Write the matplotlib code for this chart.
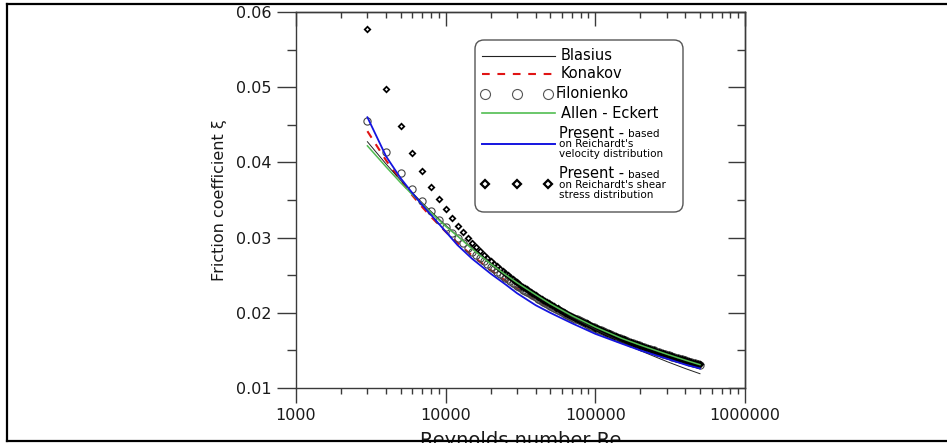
import matplotlib
matplotlib.use("Agg")
import matplotlib.pyplot as plt
import matplotlib.transforms as mtransforms
from matplotlib.lines import Line2D
from matplotlib.patches import FancyBboxPatch
from matplotlib.text import Annotation
from matplotlib.ticker import (LogLocator, MultipleLocator, FuncFormatter,
                               FormatStrFormatter, NullFormatter)

plt.rcParams['font.family'] = ['DejaVu Sans']

# ---- correlations drawn as lines -------------------------------------------
re_lines = [3000, 4000, 5000, 6000, 7000, 8000, 10000, 12000, 15000, 20000,
            25000, 30000, 40000, 50000, 70000, 100000, 150000, 200000,
            300000, 400000, 500000]
xi_blasius = [0.04275, 0.03978, 0.03763, 0.03595, 0.03459, 0.03346, 0.03164,
              0.03023, 0.02859, 0.02661, 0.02516, 0.02404, 0.02237, 0.02116,
              0.01945, 0.01779, 0.01608, 0.01496, 0.01352, 0.01258, 0.01190]
xi_konakov = [0.04415, 0.04026, 0.03758, 0.03559, 0.03403, 0.03275, 0.03078,
              0.02930, 0.02762, 0.02567, 0.02429, 0.02325, 0.02173, 0.02066,
              0.01918, 0.01778, 0.01636, 0.01546, 0.01431, 0.01357, 0.01304]
xi_allen_eckert = [0.0422, 0.0394, 0.0373, 0.0357, 0.0344, 0.0333, 0.0315,
                   0.0302, 0.0285, 0.0265, 0.0251, 0.0240, 0.0224, 0.0212,
                   0.0196, 0.0181, 0.0166, 0.0157, 0.0145, 0.0137, 0.0131]
xi_present_velocity = [0.0460, 0.0408, 0.0379, 0.0359, 0.0343, 0.0330, 0.0308,
                       0.0290, 0.0272, 0.0252, 0.0238, 0.0226, 0.0210, 0.0200,
                       0.0186, 0.0172, 0.0159, 0.0150, 0.0139, 0.0131, 0.0126]

# ---- series drawn as markers ----------------------------------------------
re_points = [3000, 4000, 5000, 6000, 7000, 8000, 9000, 10000, 11000, 12000,
             13000, 14000, 15000, 16000, 17000, 18000, 19000, 20000, 21000,
             22000, 23000, 24000, 25000, 26000, 27000, 28000, 29000,
             30000, 31000, 32000, 33000, 34000, 35000, 36000, 37000, 38000, 39000,
             40000, 41250, 42500, 43750, 45000, 46250, 47500, 48750, 50000, 51500,
             53000, 54500, 56000, 58000, 60000, 61500, 63000, 65000, 67000, 69000,
             71000, 73000, 75000, 77500, 80000, 82500, 85000, 87500, 90000, 92500,
             95000, 97500, 100000, 103000, 106000, 109000, 112000, 115500, 119000, 122500,
             126000, 130000, 134000, 138000, 142000, 146000, 150000, 154500, 159000, 163500,
             168000, 173000, 178000, 183500, 189000, 194500, 200000, 206000, 212000, 218500,
             225000, 231500, 238000, 245000, 252000, 259500, 267000, 275000, 283000, 291500,
             300000, 309000, 318000, 327500, 337000, 347000, 357000, 367500, 378000, 389000,
             400000, 412000, 424000, 437000, 450000, 463000, 476000, 488000, 500000]
xi_filonienko = [0.04549, 0.04138, 0.03857, 0.03647, 0.03483, 0.03350, 0.03239,
                 0.03144, 0.03061, 0.02989, 0.02925, 0.02867, 0.02815, 0.02767,
                 0.02724, 0.02683, 0.02646, 0.02612, 0.02579, 0.02549, 0.02521,
                 0.02494, 0.02469, 0.02445, 0.02422, 0.02401, 0.02380,
                 0.02361, 0.02342, 0.02324, 0.02307, 0.02291, 0.02275, 0.02260, 0.02245, 0.02231, 0.02217,
                 0.02204, 0.02188, 0.02173, 0.02158, 0.02144, 0.02131, 0.02118, 0.02105, 0.02093, 0.02079,
                 0.02065, 0.02052, 0.02040, 0.02024, 0.02008, 0.01997, 0.01987, 0.01973, 0.01960, 0.01947,
                 0.01935, 0.01923, 0.01912, 0.01898, 0.01885, 0.01873, 0.01860, 0.01849, 0.01838, 0.01827,
                 0.01817, 0.01807, 0.01797, 0.01786, 0.01775, 0.01765, 0.01755, 0.01743, 0.01732, 0.01722,
                 0.01712, 0.01701, 0.01690, 0.01680, 0.01671, 0.01661, 0.01652, 0.01642, 0.01633, 0.01623,
                 0.01615, 0.01605, 0.01596, 0.01586, 0.01577, 0.01568, 0.01559, 0.01550, 0.01542, 0.01533,
                 0.01524, 0.01515, 0.01507, 0.01499, 0.01491, 0.01482, 0.01474, 0.01466, 0.01458, 0.01450,
                 0.01442, 0.01434, 0.01426, 0.01418, 0.01410, 0.01403, 0.01395, 0.01388, 0.01381, 0.01373,
                 0.01366, 0.01359, 0.01352, 0.01344, 0.01337, 0.01330, 0.01323, 0.01317, 0.01312]
xi_present_shear = [0.0577, 0.0498, 0.0448, 0.0413, 0.0388, 0.0367, 0.0351,
                    0.0338, 0.0326, 0.03152, 0.03071, 0.02998, 0.02933, 0.02875,
                    0.02823, 0.02774, 0.02730, 0.02690, 0.02652, 0.02617, 0.02585,
                    0.02554, 0.02525, 0.02498, 0.02472, 0.02449, 0.02425,
                    0.02404, 0.02383, 0.02363, 0.02345, 0.02327, 0.02310, 0.02293, 0.02277, 0.02262, 0.02247,
                    0.02233, 0.02215, 0.02199, 0.02183, 0.02168, 0.02154, 0.02140, 0.02126, 0.02114, 0.02099,
                    0.02084, 0.02070, 0.02058, 0.02041, 0.02024, 0.02012, 0.02002, 0.01987, 0.01974, 0.01960,
                    0.01947, 0.01935, 0.01923, 0.01909, 0.01895, 0.01883, 0.01869, 0.01858, 0.01846, 0.01835,
                    0.01824, 0.01815, 0.01804, 0.01793, 0.01782, 0.01772, 0.01761, 0.01749, 0.01738, 0.01728,
                    0.01717, 0.01706, 0.01694, 0.01685, 0.01675, 0.01665, 0.01656, 0.01646, 0.01636, 0.01627,
                    0.01618, 0.01608, 0.01599, 0.01589, 0.01580, 0.01571, 0.01562, 0.01553, 0.01545, 0.01535,
                    0.01527, 0.01518, 0.01509, 0.01501, 0.01493, 0.01484, 0.01476, 0.01468, 0.01460, 0.01452,
                    0.01444, 0.01435, 0.01428, 0.01419, 0.01412, 0.01404, 0.01397, 0.01389, 0.01382, 0.01374,
                    0.01367, 0.01360, 0.01353, 0.01345, 0.01338, 0.01331, 0.01324, 0.01318, 0.01313]

x_tick_values = [1000, 10000, 100000, 1000000]
legend_labels = ["Blasius", "Konakov", "Filonienko", "Allen - Eckert"]

W, H = 947, 443
fig = plt.figure(figsize=(W / 100, H / 100), dpi=100)
ax = fig.add_axes([296 / W, 1 - 388 / H, 449 / W, 376 / H])

# pixel coordinates measured from the top-left corner of the canvas
pix = mtransforms.Affine2D().scale(1 / 100, -1 / 100).translate(0, H / 100) + fig.dpi_scale_trans

frame_col = '#3a3a3a'
red = '#e01414'
green = '#52bd52'
blue = '#1414e0'

# ---- data ------------------------------------------------------------------
ax.plot(re_lines, xi_konakov, color=red, lw=1.5, dashes=(3.7, 3.7), zorder=1.9)
ax.plot(re_points, xi_filonienko, ls='none', marker='o', ms=5.2, mfc='none',
        mec='#454545', mew=0.8, zorder=2.0)
ax.plot(re_points, xi_present_shear, ls='none', marker='D', ms=2.8, mfc='none',
        mec='black', mew=1.25, zorder=2.1)
ax.plot(re_lines, xi_blasius, color='#222222', lw=0.7, zorder=3.0)
ax.plot(re_lines, xi_allen_eckert, color=green, lw=1.1, zorder=3.2)
ax.plot(re_lines, xi_present_velocity, color=blue, lw=1.3, zorder=3.3)

# ---- axes ------------------------------------------------------------------
ax.set_xscale('log')
ax.set_xlim(1000, 1000000)
ax.set_ylim(0.01, 0.06)
ax.set_xticks(x_tick_values)
ax.xaxis.set_major_formatter(FuncFormatter(lambda v, p: "%d" % round(v)))
ax.xaxis.set_minor_locator(LogLocator(base=10, subs=range(2, 10)))
ax.xaxis.set_minor_formatter(NullFormatter())
ax.yaxis.set_major_locator(MultipleLocator(0.01))
ax.yaxis.set_minor_locator(MultipleLocator(0.005))
ax.yaxis.set_major_formatter(FormatStrFormatter('%.2f'))

for sp in ax.spines.values():
    sp.set_color(frame_col)
    sp.set_linewidth(1.0)

ax.tick_params(axis='x', which='major', direction='out', length=10.5, width=1.0,
               color=frame_col, labelsize=11.5, labelcolor='#1a1a1a', pad=4)
ax.tick_params(axis='x', which='minor', direction='out', length=4.5, width=1.0,
               color=frame_col)
ax.tick_params(axis='y', which='major', direction='out', length=13.5, width=1.0,
               color=frame_col, labelsize=11.5, labelcolor='#1a1a1a', pad=4)
ax.tick_params(axis='y', which='minor', direction='out', length=6.5, width=1.0,
               color=frame_col)

# mirrored ticks on top and right, pointing into the plot
top = ax.secondary_xaxis('top')
top.set_xticks(x_tick_values)
top.xaxis.set_minor_locator(LogLocator(base=10, subs=range(2, 10)))
top.xaxis.set_major_formatter(NullFormatter())
top.xaxis.set_minor_formatter(NullFormatter())
top.tick_params(which='major', direction='in', length=10.0, width=1.0, color=frame_col)
top.tick_params(which='minor', direction='in', length=4.3, width=1.0, color=frame_col)
right = ax.secondary_yaxis('right')
right.yaxis.set_major_locator(MultipleLocator(0.01))
right.yaxis.set_minor_locator(MultipleLocator(0.005))
right.yaxis.set_major_formatter(NullFormatter())
right.yaxis.set_minor_formatter(NullFormatter())
right.tick_params(which='major', direction='in', length=12.2, width=1.0, color=frame_col)
right.tick_params(which='minor', direction='in', length=5.8, width=1.0, color=frame_col)
for sec in (top, right):
    for sp in sec.spines.values():
        sp.set_color(frame_col)
        sp.set_linewidth(1.0)

ax.set_xlabel("Reynolds number Re", fontsize=14, color='#1a1a1a')
ax.xaxis.set_label_coords(0.5, (388 - 431) / 376)
ax.set_ylabel("Friction coefficient \u03be", fontsize=11.5, color='#1a1a1a')
ax.yaxis.set_label_coords((227 - 296) / 449, 0.5)

# ---- legend box --------------------------------------------------------------
box = FancyBboxPatch((475, 40), 208, 172, boxstyle="round,pad=0,rounding_size=9",
                     transform=pix, facecolor='white', edgecolor='#555555',
                     lw=1.0, zorder=5)
fig.add_artist(box)

def handle_line(y, **kw):
    fig.add_artist(Line2D([482, 555], [y, y], transform=pix, zorder=6, **kw))

def handle_markers(y, **kw):
    fig.add_artist(Line2D([485, 516.7, 548.3], [y, y, y], transform=pix,
                          ls='none', zorder=6, **kw))

big = 10.5
small = 7.5
handle_line(56, color='#222222', lw=0.8)
fig.text(561, 56, legend_labels[0], transform=pix, fontsize=big, va='center', zorder=7)
handle_line(74, color=red, lw=1.5, dashes=(3.7, 3.7))
fig.text(561, 74, legend_labels[1], transform=pix, fontsize=big, va='center', zorder=7)
handle_markers(94, marker='o', ms=7.2, mfc='none', mec='#555555', mew=0.8)
fig.text(556, 94, legend_labels[2], transform=pix, fontsize=big, va='center', zorder=7)
handle_line(113, color=green, lw=1.2)
fig.text(561, 113, legend_labels[3], transform=pix, fontsize=big, va='center', zorder=7)

def present_block(y0, lines):
    head = fig.text(559, y0, "Present -", transform=pix, fontsize=big,
                    va='center', zorder=7)
    fig.add_artist(Annotation("based", xy=(1, 0), xycoords=head, xytext=(2.5, 0.8),
                              textcoords='offset points', fontsize=small,
                              va='bottom', ha='left', zorder=7))
    for i, s in enumerate(lines):
        fig.text(559, y0 + 11 + 10 * i, s, transform=pix, fontsize=small,
                 va='center', zorder=7)

handle_line(143.5, color=blue, lw=1.4)
present_block(133, ["on Reichardt's", "velocity distribution"])
handle_markers(184, marker='D', ms=4.0, mfc='white', mec='black', mew=1.6)
present_block(174, ["on Reichardt's shear", "stress distribution"])

# ---- page border ---------------------------------------------------------------
for xs, ys in (([7, W + 5], [3.5, 3.5]), ([7, 7], [3.5, 440.5]), ([7, W + 5], [440.5, 440.5])):
    fig.add_artist(Line2D(xs, ys, transform=pix, color='black', lw=1.6,
                          solid_capstyle='projecting', zorder=10))

fig.savefig("out.png", dpi=100)
